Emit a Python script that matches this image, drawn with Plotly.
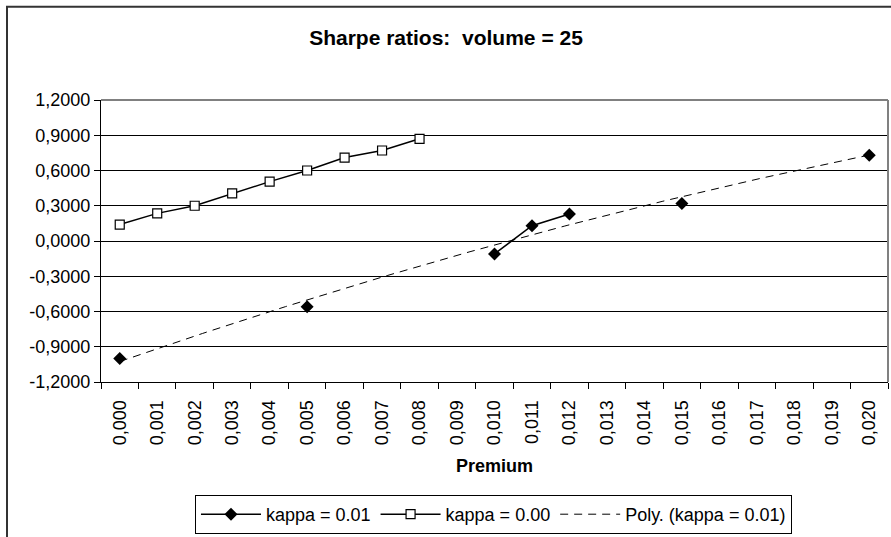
import numpy as np
import plotly.graph_objects as go

# Premium categories (comma decimal separator)
premium_labels = ["0,000", "0,001", "0,002", "0,003", "0,004", "0,005", "0,006",
                  "0,007", "0,008", "0,009", "0,010", "0,011", "0,012", "0,013",
                  "0,014", "0,015", "0,016", "0,017", "0,018", "0,019", "0,020"]

# Sharpe ratios per premium; None = no observation
sharpe_kappa_001 = [-1.00, None, None, None, None, -0.56, None, None, None, None,
                    -0.11, 0.13, 0.23, None, None, 0.32, None, None, None, None, 0.73]
sharpe_kappa_000 = [0.14, 0.235, 0.30, 0.405, 0.505, 0.60, 0.71, 0.77, 0.87]

y_tick_values = [-1.2, -0.9, -0.6, -0.3, 0.0, 0.3, 0.6, 0.9, 1.2]
y_tick_labels = ["-1,2000", "-0,9000", "-0,6000", "-0,3000", "0,0000",
                 "0,3000", "0,6000", "0,9000", "1,2000"]

FONT = "Liberation Sans, Arial, sans-serif"

idx_all = np.arange(len(premium_labels))
idx_000 = np.arange(len(sharpe_kappa_000))

# 2nd order polynomial trend through the kappa = 0.01 observations
obs = [(i, v) for i, v in enumerate(sharpe_kappa_001) if v is not None]
ox = np.array([o[0] for o in obs], dtype=float)
oy = np.array([o[1] for o in obs], dtype=float)
coef = np.polyfit(ox, oy, 2)
tx = np.linspace(0, len(premium_labels) - 1, 200)
ty = np.polyval(coef, tx)

fig = go.Figure()

fig.add_trace(go.Scatter(
    x=idx_all, y=sharpe_kappa_001, name="kappa = 0.01",
    mode="lines+markers", connectgaps=False,
    line=dict(color="black", width=1.5),
    marker=dict(symbol="diamond", size=10, color="black"),
))
fig.add_trace(go.Scatter(
    x=idx_000, y=sharpe_kappa_000, name="kappa = 0.00",
    mode="lines+markers",
    line=dict(color="black", width=1.5),
    marker=dict(symbol="square", size=9, color="white",
                line=dict(color="black", width=1.2)),
))
fig.add_trace(go.Scatter(
    x=tx, y=ty, name="Poly. (kappa = 0.01)", mode="lines",
    line=dict(color="black", width=1, dash="8px,6px"),
))

fig.update_layout(
    width=891, height=537,
    margin=dict(l=101, r=3, t=100, b=150),
    paper_bgcolor="white", plot_bgcolor="white",
    font=dict(family=FONT, size=18, color="black"),
    title=dict(text="<b>Sharpe ratios:  volume = 25</b>",
               font=dict(family=FONT, size=21, color="black"),
               xref="paper", x=(446 - 101) / 787, xanchor="center",
               yref="container", y=1 - 37.5 / 537, yanchor="middle"),
    showlegend=True,
    legend=dict(orientation="h", xanchor="center", x=0.4987,
                yanchor="top", y=(387 - 502) / 287,
                bordercolor="black", borderwidth=1, itemwidth=60,
                font=dict(family=FONT, size=18, color="black"),
                bgcolor="white"),
)

fig.update_xaxes(
    range=[-0.5, len(premium_labels) - 0.5],
    tickmode="array", tickvals=list(idx_all), ticktext=premium_labels,
    tickangle=-90, ticks="", ticklabelstandoff=10,
    showgrid=False, zeroline=False,
    showline=True, linecolor="black", linewidth=1,
    minor=dict(tickvals=[i - 0.5 for i in range(len(premium_labels) + 1)],
               ticks="outside", ticklen=6, tickcolor="black", showgrid=False),
    tickfont=dict(family=FONT, size=18, color="black"),
)
fig.update_yaxes(
    range=[-1.2, 1.2],
    tickmode="array", tickvals=y_tick_values, ticktext=y_tick_labels,
    ticks="outside", ticklen=6, tickcolor="black",
    showgrid=True, gridcolor="black", gridwidth=1, zeroline=False,
    showline=True, linecolor="black", linewidth=1,
    tickfont=dict(family=FONT, size=18, color="black"),
)

# Plot-area frame (top and right edges in grey)
fig.add_shape(type="line", xref="paper", yref="paper", x0=0, x1=1, y0=1, y1=1,
              line=dict(color="#808080", width=2))
fig.add_shape(type="line", xref="paper", yref="paper", x0=1, x1=1, y0=0, y1=1,
              line=dict(color="#808080", width=2))

# Outer chart-area border
fig.add_shape(type="rect", xref="paper", yref="paper",
              x0=(7 - 101) / 787, x1=1.2, y0=-0.8, y1=(387 - 5) / 287,
              line=dict(color="#333333", width=2), layer="above")

# Axis title
fig.add_annotation(text="<b>Premium</b>", xref="paper", yref="paper",
                   x=0.5, y=(387 - 472) / 287, xanchor="center", yanchor="middle",
                   showarrow=False, font=dict(family=FONT, size=18, color="black"))

fig.write_html("out.html")
